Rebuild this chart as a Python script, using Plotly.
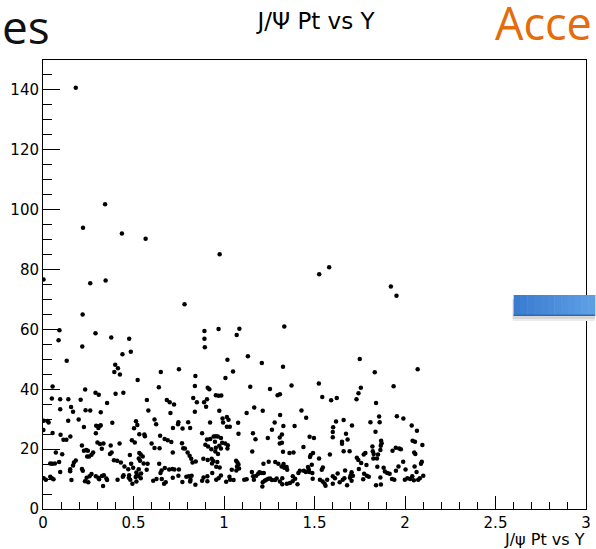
import plotly.graph_objects as go

# J/psi candidates: rapidity (Y) and transverse momentum (Pt, GeV/c)
rapidity = [
    0.181, 0.221, 0.343, 0.436, 0.567, 0.976,
    0.003, 0.261, 0.346, 0.782, 0.219, 0.217, 0.086, 0.091, 0.290, 0.377,
    0.476, 0.485, 0.439, 0.131, 0.751, 0.399, 0.414, 0.394, 0.425, 0.651,
    0.842, 0.523, 0.640, 0.053, 0.839, 0.233, 0.290, 0.308, 0.401, 0.444,
    0.049, 0.095, 0.140, 0.208, 0.354, 0.574, 0.684, 0.700, 0.724, 0.830,
    0.850, 0.839, 0.155, 0.166, 0.095, 0.235, 0.261, 0.319, 0.582, 0.704,
    0.004, 0.026, 0.031, 0.139, 0.197, 0.383, 0.514, 0.616, 0.625, 0.748,
    0.746, 0.802, 0.294, 0.306, 0.314, 0.319, 0.226, 0.521, 0.503, 0.718,
    0.771, 0.813, 0.002, 0.053, 0.097, 0.292, 0.532, 0.560, 0.563, 0.647,
    0.491, 0.113, 0.129, 0.151, 0.672, 0.689, 0.709, 0.301, 0.315, 0.334,
    0.423, 0.600, 0.768, 0.215, 0.374, 0.507, 0.616, 0.644, 0.775, 0.784,
    0.325, 0.226, 0.239, 0.248, 0.071, 0.277, 0.379, 0.717, 0.799, 0.370,
    0.106, 0.268, 0.480, 0.532, 0.540, 0.255, 0.551, 0.810, 0.244, 0.529,
    0.181, 0.392, 0.410, 0.536, 0.819, 0.040, 0.051, 0.066, 0.089, 0.171,
    0.430, 0.487, 0.556, 0.578, 0.642, 0.826, 0.844, 0.166, 0.450, 0.471,
    0.498, 0.529, 0.150, 0.215, 0.150, 0.220, 0.095, 0.573, 0.655, 0.697,
    0.715, 0.726, 0.751, 0.673, 0.649, 0.516, 0.518, 0.542,
    0.004, 0.016, 0.040, 0.049, 0.058, 0.157, 0.232, 0.241, 0.250, 0.257,
    0.268, 0.292, 0.306, 0.326, 0.336, 0.310, 0.332, 0.350, 0.354, 0.412,
    0.441, 0.445, 0.474, 0.476, 0.482, 0.494, 0.516, 0.527, 0.540, 0.512,
    0.609, 0.627, 0.656, 0.669, 0.678, 0.717, 0.748, 0.770, 0.792, 0.806,
    0.821, 0.842, 0.813,
    1.526, 1.581, 1.922, 1.953, 1.333, 0.892, 0.892, 0.894, 0.970, 1.085,
    1.070, 1.019, 1.008, 1.050, 1.132, 1.209, 1.326, 1.750, 1.833, 2.070,
    0.910, 0.919, 1.145, 1.254, 1.373, 1.524, 1.756, 1.743, 1.937,
    0.890, 0.901, 0.906, 0.955, 0.970, 0.985, 1.296, 1.309, 1.543, 1.592,
    1.623, 1.732, 1.840, 1.167, 1.214, 0.974, 0.923, 0.992, 1.016, 1.025,
    0.995, 1.125, 1.078, 1.016, 1.032, 1.280, 1.310, 1.328, 1.390, 1.265,
    1.428, 1.454, 1.603, 1.601, 1.619, 1.661, 1.707, 1.809, 1.857, 1.860,
    1.837, 1.955, 1.991, 2.037, 2.066, 0.879, 1.080, 1.160, 1.174, 1.242,
    1.308, 1.320, 1.473, 1.497, 1.601, 1.674, 1.683, 2.042, 2.055, 2.096,
    0.906, 0.924, 0.943, 0.955, 0.966, 0.983, 0.990, 1.007, 1.021, 0.897,
    0.912, 0.930, 0.950, 0.955, 0.974, 0.983, 1.019, 0.952, 0.967, 1.156,
    1.308, 1.320, 1.326, 1.362, 1.384, 1.439, 1.479, 1.492, 1.475, 1.585,
    1.652, 1.652, 1.661, 1.694, 1.772, 1.781, 1.820, 1.822, 1.827, 1.868,
    1.871, 1.866, 1.851, 1.864, 1.931, 1.949, 1.968, 1.977, 2.051, 2.057,
    0.932, 0.886, 0.910, 0.941, 0.963, 0.934, 0.957, 0.976, 1.067, 1.074,
    1.080, 1.072, 1.083, 1.068, 1.043, 1.030, 1.034, 1.012, 1.053, 0.970,
    0.983, 0.957, 0.935, 0.908, 0.908, 0.879, 0.887, 0.815, 1.112, 1.125,
    1.154, 1.161, 1.165, 1.178, 1.189, 1.196, 1.207, 1.218, 1.220, 1.214,
    1.212, 1.225, 1.234, 1.245, 1.255, 1.265, 1.282, 1.291, 1.247, 1.283,
    1.300, 1.318, 1.329, 1.333, 1.346, 1.349, 1.322, 1.309, 1.322, 1.347,
    1.364, 1.379, 1.380, 1.393, 1.406, 1.411, 1.419, 1.441, 1.452, 1.464,
    1.468, 1.471, 1.485, 1.488, 1.490, 1.525, 1.546, 1.540, 1.530, 1.545,
    1.556, 1.561, 1.570, 1.601, 1.601, 1.613, 1.628, 1.639, 1.656, 1.669,
    1.665, 1.680, 1.696, 1.700, 1.705, 1.712, 1.705, 1.734, 1.742, 1.745,
    1.758, 1.769, 1.774, 1.789, 1.800, 1.787, 1.825, 1.845, 1.847, 1.840,
    1.867, 1.864, 1.882, 1.889, 1.902, 1.915, 1.928, 1.941, 1.950, 1.964,
    1.990, 2.003, 1.999, 2.013, 2.028, 2.040, 2.053, 2.064, 2.088, 2.093,
    2.101, 2.082, 2.073, 2.049,
]

pt = [
    140.7, 94.0, 101.8, 92.0, 90.3, 85.1,
    76.7, 75.4, 76.3, 68.4, 65.0, 54.3, 56.4, 59.7, 58.7, 57.3,
    56.9, 52.5, 51.7, 49.5, 46.7, 48.2, 47.0, 45.8, 44.9, 45.8,
    44.4, 43.1, 40.7, 40.9, 41.1, 39.9, 38.8, 38.2, 38.5, 38.8,
    36.9, 36.7, 36.7, 36.5, 35.4, 36.4, 36.4, 35.7, 34.9, 37.1,
    35.7, 32.5, 34.1, 32.5, 33.3, 33.0, 32.9, 32.3, 32.9, 32.1,
    29.5, 29.4, 28.9, 29.5, 29.9, 28.8, 29.3, 29.9, 28.3, 29.0,
    28.3, 29.0, 27.8, 27.1, 27.7, 28.0, 27.4, 28.1, 27.0, 27.1,
    26.9, 27.1, 26.4, 25.4, 24.8, 25.3, 25.0, 24.9, 24.3, 24.5,
    23.0, 23.1, 23.1, 24.2, 23.4, 23.0, 22.4, 22.2, 21.7, 21.9,
    21.9, 21.9, 22.0, 21.2, 21.2, 22.2, 20.4, 20.3, 20.3, 20.2,
    20.1, 19.5, 19.7, 19.5, 18.9, 18.9, 18.9, 18.9, 18.9, 18.4,
    18.3, 18.1, 18.0, 18.7, 18.2, 17.5, 17.5, 17.8, 17.5, 16.9,
    16.2, 16.3, 16.1, 16.1, 16.8, 15.2, 15.1, 15.2, 15.7, 15.5,
    15.5, 15.1, 15.2, 15.1, 15.1, 15.5, 15.9, 14.5, 14.2, 13.3,
    13.8, 13.3, 13.3, 13.4, 12.6, 12.8, 12.4, 13.1, 12.9, 13.2,
    13.4, 13.2, 13.2, 13.7, 12.0, 12.2, 11.3, 11.9,
    10.3, 9.8, 10.8, 10.3, 9.9, 9.7, 9.3, 10.4, 8.9, 10.9,
    11.7, 10.9, 10.4, 11.0, 11.3, 9.9, 7.7, 10.2, 9.7, 9.8,
    10.8, 11.3, 10.4, 11.3, 9.8, 8.4, 9.2, 11.1, 10.3, 10.7,
    9.4, 10.0, 10.0, 8.4, 8.9, 10.4, 11.1, 9.0, 10.8, 10.9,
    11.1, 8.1, 9.2,
    78.4, 80.8, 74.3, 71.2, 61.0, 59.5, 56.9, 54.0, 60.1, 60.2,
    58.1, 49.9, 43.8, 45.9, 51.0, 48.8, 47.5, 50.1, 45.7, 46.7,
    40.5, 40.0, 40.8, 40.1, 41.3, 41.9, 40.5, 38.7, 41.0,
    35.7, 34.2, 36.7, 38.0, 37.8, 37.9, 38.0, 38.3, 37.4, 36.3,
    37.1, 36.7, 35.4, 33.9, 32.8, 32.8, 28.9, 30.2, 30.7, 29.8,
    28.9, 32.1, 28.8, 27.5, 27.5, 28.9, 31.4, 27.7, 27.7, 26.5,
    32.9, 30.5, 27.3, 25.7, 29.2, 29.7, 27.9, 29.0, 30.9, 29.0,
    25.8, 31.0, 30.2, 27.9, 26.1, 25.3, 25.1, 25.3, 23.3, 23.7,
    23.9, 24.9, 24.1, 23.7, 24.0, 25.1, 23.2, 22.8, 22.5, 21.4,
    23.2, 23.4, 24.2, 24.3, 24.2, 23.7, 22.1, 21.9, 21.3, 21.5,
    20.9, 20.0, 22.5, 20.5, 21.1, 20.2, 20.2, 19.2, 18.4, 19.2,
    21.9, 22.1, 19.1, 18.7, 18.9, 20.7, 18.0, 18.7, 17.4, 18.2,
    21.8, 22.5, 19.3, 19.3, 18.2, 18.7, 20.9, 19.3, 18.4, 22.8,
    22.0, 21.1, 18.2, 19.7, 19.5, 20.5, 20.2, 20.0, 18.9, 18.4,
    16.8, 16.8, 16.4, 16.0, 15.7, 15.2, 14.1, 13.9, 16.1, 15.5,
    14.9, 14.2, 13.5, 12.9, 13.1, 10.8, 9.8, 9.1, 9.7, 10.3,
    11.2, 9.8, 12.0, 10.9, 9.3, 9.4, 10.5, 9.8, 9.8, 9.9,
    12.4, 10.9, 9.8, 11.1, 11.8, 12.3, 12.0, 15.1, 12.0, 8.9,
    7.5, 9.4, 9.8, 10.1, 10.2, 9.7, 9.7, 10.2, 15.8, 15.7,
    15.1, 14.2, 15.0, 13.8, 14.0, 13.1, 10.3, 9.2, 8.3, 8.4,
    8.7, 9.3, 10.9, 10.1, 8.3, 12.0, 12.8, 12.8, 12.4, 14.0,
    13.3, 12.4, 14.8, 12.0, 10.1, 16.9, 13.9, 13.1, 9.8, 9.2,
    8.4, 7.8, 9.8, 10.9, 8.4, 10.3, 11.9, 8.9, 9.8, 12.9,
    10.3, 7.9, 10.4, 11.3, 12.3, 11.1, 9.4, 17.1, 16.4, 13.4,
    15.4, 9.9, 11.8, 11.1, 10.8, 14.7, 16.9, 16.9, 14.1, 7.9,
    8.2, 10.5, 13.8, 12.5, 12.0, 11.8, 10.0, 9.8, 12.8, 14.2,
    15.8, 13.2, 9.8, 10.3, 10.0, 10.9, 14.2, 12.4, 15.1, 15.8,
    11.1, 10.3, 9.8, 9.6,
]

x_tick_values = [0, 0.5, 1, 1.5, 2, 2.5, 3]
x_tick_labels = ["0", "0.5", "1", "1.5", "2", "2.5", "3"]
y_tick_values = [0, 20, 40, 60, 80, 100, 120, 140]
y_tick_labels = ["0", "20", "40", "60", "80", "100", "120", "140"]

W, H = 596, 549
L, R, T, B = 43, 591, 60, 509
AXIS_FONT = "DejaVu Sans"


def paper(px, py):
    """Pixel position on the page -> paper coordinates."""
    return (px - L) / (R - L), (B - py) / (B - T)


fig = go.Figure()
fig.add_trace(go.Scatter(
    x=rapidity, y=pt, mode="markers",
    marker=dict(color="black", size=4.5, line=dict(width=0)),
    hoverinfo="x+y", showlegend=False,
))

axis_common = dict(
    showline=True, linecolor="black", linewidth=1, mirror=True,
    ticks="inside", tickcolor="black", tickwidth=1,
    showgrid=False, zeroline=False,
    tickfont=dict(family=AXIS_FONT, size=15, color="black"),
)

fig.update_xaxes(
    range=[0, 3], tickmode="array", tickvals=x_tick_values, ticktext=x_tick_labels,
    ticklen=13,
    minor=dict(ticks="inside", ticklen=7, dtick=0.1, tick0=0, tickcolor="black", showgrid=False),
    **axis_common,
)
fig.update_yaxes(
    range=[0, 150], tickmode="array", tickvals=y_tick_values, ticktext=y_tick_labels,
    ticklen=17,
    minor=dict(ticks="inside", ticklen=9, dtick=5, tick0=0, tickcolor="black", showgrid=False),
    **axis_common,
)

annotations = []
# x-axis title at the lower right, ROOT style
ax, ay = paper(592, 539)
annotations.append(dict(
    text="J/ψ Pt vs Y", x=ax, y=ay, xref="paper", yref="paper",
    xanchor="right", yanchor="middle", showarrow=False,
    font=dict(family=AXIS_FONT, size=16, color="black"),
))
# slide heading fragments around the canvas
ex, ey = paper(0, 26)
annotations.append(dict(
    text="es", x=ex, y=ey, xref="paper", yref="paper",
    xanchor="left", yanchor="middle", showarrow=False,
    font=dict(family="Open Sans", size=46, color="#111111"),
))
cx, cy = paper(497, 23)
annotations.append(dict(
    text="Acce", x=cx, y=cy, xref="paper", yref="paper",
    xanchor="left", yanchor="middle", showarrow=False,
    font=dict(family="Open Sans", size=45, color="#E46C0A"),
))

# blue arrow body on the right edge, with a soft drop shadow
shapes = []
for dx, dy, col in [(4, 5, "#ececec"), (2, 3, "#d6d6d6")]:
    x0, y0 = paper(518 - 1, 296 + dy)
    x1, y1 = paper(600, 316 + dy)
    shapes.append(dict(type="rect", xref="paper", yref="paper", x0=x0, y0=y0, x1=x1, y1=y1,
                       fillcolor=col, line=dict(width=0), layer="above"))
n_strips = 12
c0 = (0x3A, 0x7C, 0xD0)
c1 = (0x5E, 0x9F, 0xE4)
bx0, bx1 = 518, 600
for i in range(n_strips):
    f = i / (n_strips - 1)
    col = "rgb({},{},{})".format(*[round(a + (b - a) * f) for a, b in zip(c0, c1)])
    sx0 = bx0 + (bx1 - bx0) * i / n_strips
    sx1 = bx0 + (bx1 - bx0) * (i + 1) / n_strips + 0.5
    x0, y0 = paper(sx0, 316)
    x1, y1 = paper(sx1, 295)
    shapes.append(dict(type="rect", xref="paper", yref="paper", x0=x0, y0=y0, x1=x1, y1=y1,
                       fillcolor=col, line=dict(width=0), layer="above"))
x0, y0 = paper(518, 316)
x1, y1 = paper(600, 314.5)
shapes.append(dict(type="rect", xref="paper", yref="paper", x0=x0, y0=y0, x1=x1, y1=y1,
                   fillcolor="#3467ad", line=dict(width=0), layer="above"))

fig.update_layout(
    width=W, height=H,
    margin=dict(l=L, r=W - R, t=T, b=H - B, pad=0),
    paper_bgcolor="white", plot_bgcolor="white",
    title=dict(
        text="J/Ψ Pt vs Y", x=316 / W, xanchor="center", xref="container",
        y=1 - 21 / H, yanchor="middle", yref="container",
        font=dict(family=AXIS_FONT, size=23, color="black"),
    ),
    annotations=annotations,
    shapes=shapes,
)

fig.write_html("out.html")
